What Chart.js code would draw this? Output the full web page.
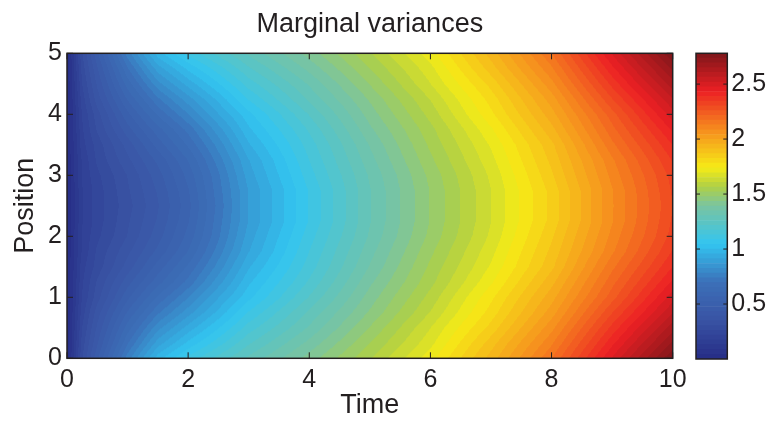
<!DOCTYPE html>
<html>
<head>
<meta charset="utf-8">
<title>Marginal variances</title>
<script src="https://cdn.jsdelivr.net/npm/chart.js@4.4.1/dist/chart.umd.min.js"></script>
<style>
  body { margin: 0; background: #fff; }
  #wrap { position: relative; width: 774px; height: 424px; }
  #main { position: absolute; left: 0; top: 0; }
  #cbar { position: absolute; left: 680px; top: 0; }
</style>
</head>
<body>
<div id="wrap">
  <canvas id="main" width="774" height="424"></canvas>
  <canvas id="cbar" width="94" height="424"></canvas>
</div>
<script>
// variance field sampled on a time x position grid
const times = [0, 0.25, 0.5, 1, 1.5, 2, 2.5, 3, 4, 5, 6, 7, 8, 9, 10];
const positions = [0, 0.25, 0.5, 0.75, 1, 1.25, 1.5, 1.75, 2, 2.25, 2.5,
                   2.75, 3, 3.25, 3.5, 3.75, 4, 4.25, 4.5, 4.75, 5];

const varPos000 = [0, 0.30, 0.47, 0.76, 0.98, 1.10, 1.19, 1.27, 1.41, 1.56, 1.72, 1.93, 2.17, 2.48, 2.78];
const varPos025 = [0, 0.28, 0.43, 0.69, 0.89, 1.01, 1.11, 1.21, 1.36, 1.52, 1.68, 1.89, 2.12, 2.42, 2.70];
const varPos050 = [0, 0.26, 0.40, 0.63, 0.81, 0.93, 1.04, 1.15, 1.31, 1.48, 1.65, 1.84, 2.07, 2.36, 2.63];
const varPos075 = [0, 0.24, 0.37, 0.57, 0.73, 0.85, 0.97, 1.09, 1.27, 1.44, 1.61, 1.80, 2.02, 2.30, 2.56];
const varPos100 = [0, 0.22, 0.33, 0.51, 0.66, 0.78, 0.91, 1.03, 1.22, 1.41, 1.58, 1.77, 1.98, 2.24, 2.50];
const varPos125 = [0, 0.21, 0.31, 0.46, 0.59, 0.71, 0.85, 0.99, 1.18, 1.38, 1.55, 1.73, 1.94, 2.20, 2.44];
const varPos150 = [0, 0.20, 0.28, 0.41, 0.54, 0.66, 0.80, 0.95, 1.15, 1.35, 1.53, 1.70, 1.90, 2.16, 2.39];
const varPos175 = [0, 0.18, 0.27, 0.38, 0.49, 0.61, 0.76, 0.91, 1.13, 1.33, 1.51, 1.68, 1.88, 2.12, 2.35];
const varPos200 = [0, 0.18, 0.25, 0.35, 0.46, 0.58, 0.73, 0.89, 1.11, 1.31, 1.49, 1.66, 1.86, 2.10, 2.32];
const varPos225 = [0, 0.17, 0.24, 0.34, 0.44, 0.56, 0.72, 0.87, 1.09, 1.30, 1.48, 1.65, 1.84, 2.08, 2.31];
const varPos250 = [0, 0.17, 0.24, 0.33, 0.43, 0.55, 0.71, 0.87, 1.09, 1.30, 1.48, 1.65, 1.84, 2.08, 2.30];
const varPos275 = [0, 0.17, 0.24, 0.34, 0.44, 0.56, 0.72, 0.87, 1.09, 1.30, 1.48, 1.65, 1.84, 2.08, 2.31];
const varPos300 = [0, 0.18, 0.25, 0.35, 0.46, 0.58, 0.73, 0.89, 1.11, 1.31, 1.49, 1.66, 1.86, 2.10, 2.32];
const varPos325 = [0, 0.18, 0.27, 0.38, 0.49, 0.61, 0.76, 0.91, 1.13, 1.33, 1.51, 1.68, 1.88, 2.12, 2.35];
const varPos350 = [0, 0.20, 0.28, 0.41, 0.54, 0.66, 0.80, 0.95, 1.15, 1.35, 1.53, 1.70, 1.90, 2.16, 2.39];
const varPos375 = [0, 0.21, 0.31, 0.46, 0.59, 0.71, 0.85, 0.99, 1.18, 1.38, 1.55, 1.73, 1.94, 2.20, 2.44];
const varPos400 = [0, 0.22, 0.33, 0.51, 0.66, 0.78, 0.91, 1.03, 1.22, 1.41, 1.58, 1.77, 1.98, 2.24, 2.50];
const varPos425 = [0, 0.24, 0.37, 0.57, 0.73, 0.85, 0.97, 1.09, 1.27, 1.44, 1.61, 1.80, 2.02, 2.30, 2.56];
const varPos450 = [0, 0.26, 0.40, 0.63, 0.81, 0.93, 1.04, 1.15, 1.31, 1.48, 1.65, 1.84, 2.07, 2.36, 2.63];
const varPos475 = [0, 0.28, 0.43, 0.69, 0.89, 1.01, 1.11, 1.21, 1.36, 1.52, 1.68, 1.89, 2.12, 2.42, 2.70];
const varPos500 = [0, 0.30, 0.47, 0.76, 0.98, 1.10, 1.19, 1.27, 1.41, 1.56, 1.72, 1.93, 2.17, 2.48, 2.78];

const varianceRows = [varPos000, varPos025, varPos050, varPos075, varPos100, varPos125, varPos150,
                      varPos175, varPos200, varPos225, varPos250, varPos275, varPos300, varPos325,
                      varPos350, varPos375, varPos400, varPos425, varPos450, varPos475, varPos500];

const timeTicks = [0, 2, 4, 6, 8, 10];
const positionTicks = [0, 1, 2, 3, 4, 5];
const colorTicks = [0.5, 1, 1.5, 2, 2.5];

const FONT = 'Liberation Sans, Arial, Helvetica, sans-serif';
const INK = '#231f20';

// jet-like colormap, 64 levels
const jetStops = [
  [0.000, [38, 45, 134]],
  [0.125, [57, 83, 164]],
  [0.250, [60, 112, 184]],
  [0.375, [50, 197, 241]],
  [0.500, [122, 196, 160]],
  [0.5625, [175, 208, 70]],
  [0.625, [246, 235, 22]],
  [0.750, [246, 140, 30]],
  [0.875, [236, 32, 36]],
  [1.000, [125, 22, 26]]
];
function jet(f) {
  for (let k = 1; k < jetStops.length; k++) {
    const [f1, c1] = jetStops[k];
    if (f <= f1) {
      const [f0, c0] = jetStops[k - 1];
      const u = (f - f0) / (f1 - f0);
      return c0.map((c, i) => Math.round(c + (c1[i] - c) * u));
    }
  }
  return jetStops[jetStops.length - 1][1];
}
const LEVELS = 64;
const palette = [];
for (let k = 0; k < LEVELS; k++) palette.push(jet((k + 0.5) / LEVELS));

const allValues = varianceRows.flat();
const cmin = Math.min(...allValues);
const cmax = Math.max(...allValues);
const step = (cmax - cmin) / LEVELS;

function levelOf(v) {
  const k = Math.floor((v - cmin) / (cmax - cmin) * LEVELS);
  return Math.max(0, Math.min(LEVELS - 1, k));
}

function segment(arr, v) {
  let i = 0;
  while (i < arr.length - 2 && v > arr[i + 1]) i++;
  const u = (v - arr[i]) / (arr[i + 1] - arr[i]);
  return [i, Math.max(0, Math.min(1, u))];
}

// interpolated shading of the grid, painted pixel by pixel through the scales
const heatShading = {
  id: 'heatShading',
  beforeDatasetsDraw(chart) {
    const {ctx, chartArea: a, scales: {x, y}} = chart;
    const w = Math.round(a.right - a.left), h = Math.round(a.bottom - a.top);
    const off = document.createElement('canvas');
    off.width = w; off.height = h;
    const octx = off.getContext('2d');
    const img = octx.createImageData(w, h);
    const cols = [];
    for (let ix = 0; ix < w; ix++) cols.push(segment(times, x.getValueForPixel(a.left + ix + 0.5)));
    for (let iy = 0; iy < h; iy++) {
      const [j, v] = segment(positions, y.getValueForPixel(a.top + iy + 0.5));
      const r0 = varianceRows[j], r1 = varianceRows[j + 1];
      for (let ix = 0; ix < w; ix++) {
        const [i, u] = cols[ix];
        const z0 = r0[i] + (r0[i + 1] - r0[i]) * u;
        const z1 = r1[i] + (r1[i + 1] - r1[i]) * u;
        const c = palette[levelOf(z0 + (z1 - z0) * v)];
        const p = (iy * w + ix) * 4;
        img.data[p] = c[0]; img.data[p + 1] = c[1]; img.data[p + 2] = c[2]; img.data[p + 3] = 255;
      }
    }
    octx.putImageData(img, 0, 0);
    ctx.drawImage(off, a.left, a.top);
  }
};

// box and inward tick marks
function boxFrame(xTicks, yTicks, len) {
  return {
    id: 'boxFrame',
    afterDatasetsDraw(chart) {
      const {ctx, chartArea: a, scales} = chart;
      ctx.save();
      ctx.strokeStyle = INK;
      ctx.lineWidth = 1;
      ctx.beginPath();
      xTicks.forEach(t => {
        const px = scales.x.getPixelForValue(t);
        ctx.moveTo(px, a.bottom); ctx.lineTo(px, a.bottom - len);
        ctx.moveTo(px, a.top); ctx.lineTo(px, a.top + len);
      });
      yTicks.forEach(t => {
        const py = scales.y.getPixelForValue(t);
        ctx.moveTo(a.left, py); ctx.lineTo(a.left + len, py);
        ctx.moveTo(a.right, py); ctx.lineTo(a.right - len, py);
      });
      ctx.stroke();
      ctx.lineWidth = 1.5;
      ctx.strokeRect(a.left, a.top, a.right - a.left, a.bottom - a.top);
      ctx.restore();
    }
  };
}

const nodes = [];
positions.forEach((p, j) => times.forEach((t, i) => nodes.push({x: t, y: p, v: varianceRows[j][i]})));

new Chart(document.getElementById('main'), {
  type: 'scatter',
  data: { datasets: [{ data: nodes, pointRadius: 0 }] },
  options: {
    responsive: false,
    animation: false,
    events: [],
    layout: { padding: { left: 0, right: 101.3, top: 0, bottom: 0 } },
    plugins: {
      legend: { display: false },
      tooltip: { enabled: false },
      title: {
        display: true, text: 'Marginal variances', fullSize: false, color: INK,
        font: { family: FONT, size: 27, weight: 'normal' },
        padding: { top: 8.8, bottom: 12.1 }
      }
    },
    scales: {
      x: {
        type: 'linear', min: 0, max: 10,
        grid: { display: false, drawTicks: false }, border: { display: false },
        afterBuildTicks(s) { s.ticks = timeTicks.map(v => ({ value: v })); },
        afterFit(s) { s.height = 65.7; },
        ticks: { padding: 6.7, maxRotation: 0, color: INK, font: { family: FONT, size: 25 }, callback: v => String(v) },
        title: { display: true, text: 'Time', color: INK, font: { family: FONT, size: 27 }, padding: { top: 0, bottom: 2.3 } }
      },
      y: {
        type: 'linear', min: 0, max: 5,
        grid: { display: false, drawTicks: false }, border: { display: false },
        afterBuildTicks(s) { s.ticks = positionTicks.map(v => ({ value: v })); },
        afterFit(s) { s.width = 67; },
        ticks: { padding: 5, color: INK, font: { family: FONT, size: 25 }, callback: v => String(v) },
        title: { display: true, text: 'Position', color: INK, font: { family: FONT, size: 27 }, padding: { top: 9.3, bottom: 0 } }
      }
    }
  },
  plugins: [heatShading, boxFrame(timeTicks, positionTicks, 6)]
});

// colorbar: one floating bar per colour level
const bandSets = palette.map((c, k) => ({
  data: [[cmin + k * step, cmin + (k + 1) * step]],
  backgroundColor: `rgb(${c[0]},${c[1]},${c[2]})`,
  borderWidth: 0,
  barPercentage: 1,
  categoryPercentage: 1
}));

new Chart(document.getElementById('cbar'), {
  type: 'bar',
  data: { labels: [''], datasets: bandSets },
  options: {
    responsive: false,
    animation: false,
    events: [],
    layout: { padding: { left: 16, right: 0, top: 53.3, bottom: 65 } },
    plugins: { legend: { display: false }, tooltip: { enabled: false } },
    scales: {
      x: { display: false, stacked: true },
      y: {
        position: 'right', min: cmin, max: cmax,
        grid: { display: false, drawTicks: false }, border: { display: false },
        afterBuildTicks(s) { s.ticks = colorTicks.map(v => ({ value: v })); },
        afterFit(s) { s.width = 46.7; },
        ticks: { padding: 4, color: INK, font: { family: FONT, size: 25 }, callback: v => String(v) }
      }
    }
  },
  plugins: [boxFrame([], colorTicks, 4)]
});
</script>
</body>
</html>
